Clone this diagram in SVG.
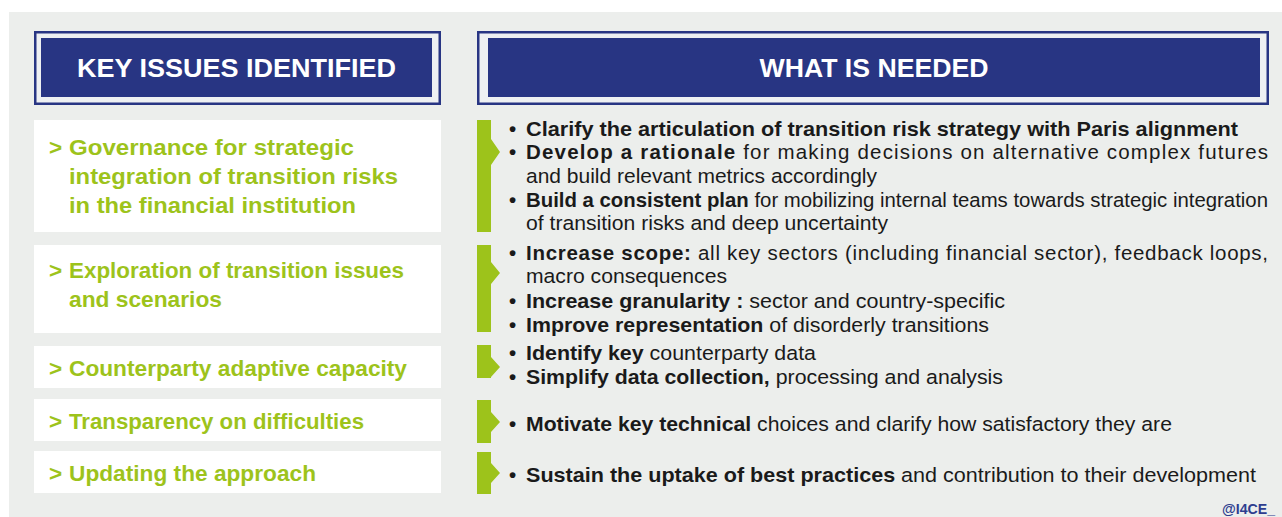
<svg xmlns="http://www.w3.org/2000/svg" width="1282" height="517" viewBox="0 0 1282 517">
<style>
.hdrOuter{fill:#EEF0F2;stroke:#283583;stroke-width:2.5}
.hdrInner{fill:#283583}
.hdrText{font-family:"Liberation Sans",Arial,sans-serif;font-weight:bold;font-size:25px;fill:#ffffff;text-anchor:middle}
.issueBox{fill:#ffffff}
.issue{font-family:"Liberation Sans",Arial,sans-serif;font-weight:bold;font-size:22.5px;fill:#9DC31B}
.need{font-family:"Liberation Sans",Arial,sans-serif;font-size:20.5px;fill:#1a1a1a}
.b{font-weight:bold}
.bar{fill:#9DC31B}
.tag{font-family:"Liberation Sans",Arial,sans-serif;font-weight:bold;font-size:14.5px;fill:#2E3D8F}
</style>
<rect x="9" y="12" width="1273" height="505" fill="#ECEEEC"/>

<g id="header-issues">
<rect class="hdrOuter" x="35.25" y="32.25" width="404.5" height="71.5"/>
<rect class="hdrInner" x="41" y="38" width="391" height="59"/>
<text class="hdrText" x="236.5" y="77" textLength="319" lengthAdjust="spacingAndGlyphs">KEY ISSUES IDENTIFIED</text>
</g>
<g id="header-needed">
<rect class="hdrOuter" x="478.25" y="32.25" width="789.5" height="71.5"/>
<rect class="hdrInner" x="488" y="38" width="772" height="59"/>
<text class="hdrText" x="874" y="77" textLength="229" lengthAdjust="spacingAndGlyphs">WHAT IS NEEDED</text>
</g>

<g id="issue-governance">
<rect class="issueBox" x="34" y="120" width="407" height="112"/>
<text class="issue" x="49" y="155">&gt;</text>
<text class="issue" x="69" y="155" textLength="285" lengthAdjust="spacingAndGlyphs">Governance for strategic</text>
<text class="issue" x="69" y="184" textLength="329" lengthAdjust="spacingAndGlyphs">integration of transition risks</text>
<text class="issue" x="69" y="213" textLength="287" lengthAdjust="spacingAndGlyphs">in the financial institution</text>
</g>
<g id="issue-exploration">
<rect class="issueBox" x="34" y="245" width="407" height="88"/>
<text class="issue" x="49" y="278">&gt;</text>
<text class="issue" x="69" y="278" textLength="335" lengthAdjust="spacingAndGlyphs">Exploration of transition issues</text>
<text class="issue" x="69" y="307" textLength="153" lengthAdjust="spacingAndGlyphs">and scenarios</text>
</g>
<g id="issue-counterparty">
<rect class="issueBox" x="34" y="346" width="407" height="42"/>
<text class="issue" x="49" y="376">&gt;</text>
<text class="issue" x="69" y="376" textLength="338" lengthAdjust="spacingAndGlyphs">Counterparty adaptive capacity</text>
</g>
<g id="issue-transparency">
<rect class="issueBox" x="34" y="399" width="407" height="42"/>
<text class="issue" x="49" y="429">&gt;</text>
<text class="issue" x="69" y="429" textLength="295" lengthAdjust="spacingAndGlyphs">Transparency on difficulties</text>
</g>
<g id="issue-updating">
<rect class="issueBox" x="34" y="451" width="407" height="42"/>
<text class="issue" x="49" y="481">&gt;</text>
<text class="issue" x="69" y="481" textLength="247" lengthAdjust="spacingAndGlyphs">Updating the approach</text>
</g>

<g id="connectors">
<polygon class="bar" points="477,120 491,120 491,139 500,152 491,165 491,232 477,232"/>
<polygon class="bar" points="477,245 491,245 491,262 500,273 491,284 491,332 477,332"/>
<polygon class="bar" points="477,345 491,345 491,357 500,367 491,377 491,378 477,378"/>
<polygon class="bar" points="477,400 491,400 491,412 500,422 491,432 491,443 477,443"/>
<polygon class="bar" points="477,452 491,452 491,463 500,473 491,483 491,494 477,494"/>
</g>

<g id="needs-governance">
<text class="need b" x="509" y="136">•</text>
<text class="need" x="526" y="136" textLength="712" lengthAdjust="spacingAndGlyphs"><tspan class="b">Clarify the articulation of transition risk strategy with Paris alignment</tspan></text>
<text class="need b" x="509" y="159">•</text>
<text class="need" x="526" y="159" textLength="742" lengthAdjust="spacing"><tspan class="b">Develop a rationale</tspan> for making decisions on alternative complex futures</text>
<text class="need" x="526" y="183" textLength="351" lengthAdjust="spacingAndGlyphs">and build relevant metrics accordingly</text>
<text class="need b" x="509" y="207">•</text>
<text class="need" x="526" y="207" textLength="742" lengthAdjust="spacingAndGlyphs"><tspan class="b">Build a consistent plan</tspan> for mobilizing internal teams towards strategic integration</text>
<text class="need" x="526" y="230" textLength="362" lengthAdjust="spacingAndGlyphs">of transition risks and deep uncertainty</text>
</g>
<g id="needs-exploration">
<text class="need b" x="509" y="260">•</text>
<text class="need" x="526" y="260" textLength="742" lengthAdjust="spacing"><tspan class="b">Increase scope:</tspan> all key sectors (including financial sector), feedback loops,</text>
<text class="need" x="526" y="283" textLength="201" lengthAdjust="spacingAndGlyphs">macro consequences</text>
<text class="need b" x="509" y="308">•</text>
<text class="need" x="526" y="308" textLength="479" lengthAdjust="spacingAndGlyphs"><tspan class="b">Increase granularity :</tspan> sector and country-specific</text>
<text class="need b" x="509" y="332">•</text>
<text class="need" x="526" y="332" textLength="463" lengthAdjust="spacingAndGlyphs"><tspan class="b">Improve representation</tspan> of disorderly transitions</text>
</g>
<g id="needs-counterparty">
<text class="need b" x="509" y="360">•</text>
<text class="need" x="526" y="360" textLength="290" lengthAdjust="spacingAndGlyphs"><tspan class="b">Identify key</tspan> counterparty data</text>
<text class="need b" x="509" y="384">•</text>
<text class="need" x="526" y="384" textLength="477" lengthAdjust="spacingAndGlyphs"><tspan class="b">Simplify data collection,</tspan> processing and analysis</text>
</g>
<g id="needs-transparency">
<text class="need b" x="509" y="431">•</text>
<text class="need" x="526" y="431" textLength="646" lengthAdjust="spacingAndGlyphs"><tspan class="b">Motivate key technical</tspan> choices and clarify how satisfactory they are</text>
</g>
<g id="needs-updating">
<text class="need b" x="509" y="482">•</text>
<text class="need" x="526" y="482" textLength="730" lengthAdjust="spacingAndGlyphs"><tspan class="b">Sustain the uptake of best practices</tspan> and contribution to their development</text>
</g>

<text class="tag" x="1222" y="514" textLength="53" lengthAdjust="spacingAndGlyphs">@I4CE_</text>
</svg>
